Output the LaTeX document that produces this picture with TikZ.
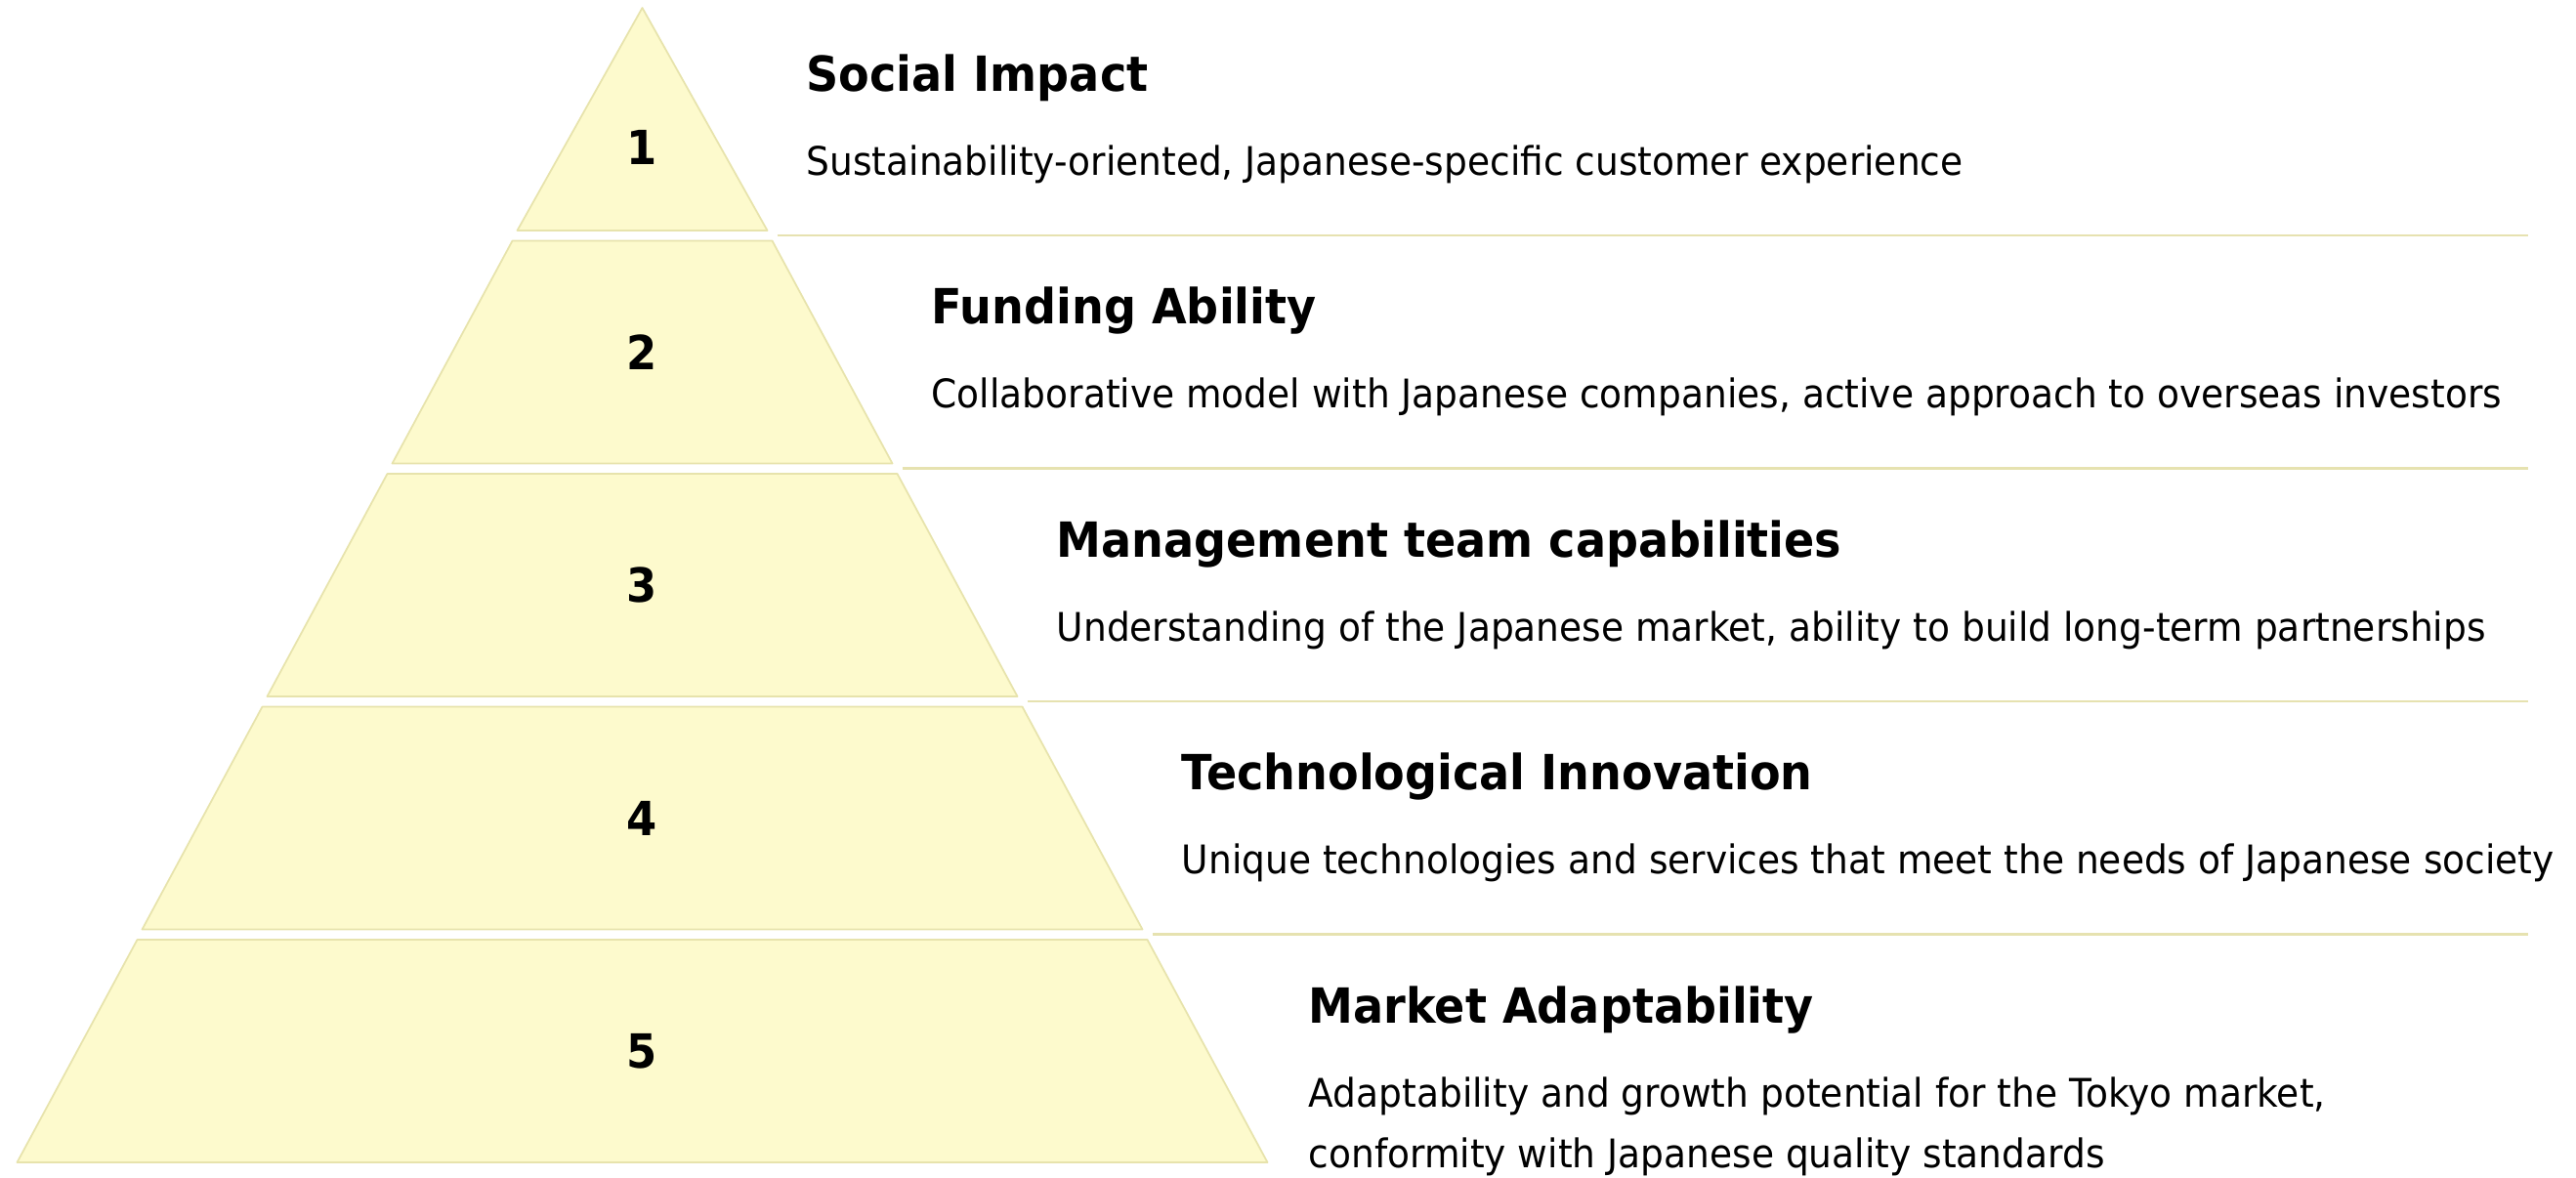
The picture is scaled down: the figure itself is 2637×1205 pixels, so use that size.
\documentclass[tikz,border=0pt]{standalone}
\usepackage{fontspec}
\setmainfont{DejaVu Sans}[FakeStretch=0.93]
\usepackage{tikz}
\usetikzlibrary{positioning}
\definecolor{tierfill}{RGB}{253, 250, 205}
\definecolor{tierline}{RGB}{231, 227, 172}
\definecolor{rulecolor}{RGB}{230, 226, 176}

\begin{document}
\begin{tikzpicture}[x=0.01cm, y=-0.01cm,
    tier/.style={fill=tierfill, draw=tierline, line width=0.5pt, line join=round},
    tiernum/.style={inner sep=0pt, font=\fontsize{13.7}{16}\selectfont\bfseries},
    heading/.style={anchor=base west, inner sep=0pt, font=\fontsize{14.1}{17}\selectfont\bfseries},
    desc/.style={anchor=base west, inner sep=0pt, font=\fontsize{11.48}{14}\selectfont},
    divider/.style={draw=rulecolor, line width=0.6pt}]
    \useasboundingbox (0,0) rectangle (2637,1205);

    % Pyramid tiers
    \path[tier] (657.5,8) -- (785.5,236) -- (529.5,236) -- cycle;
    \path[tier] (524.5,246.5) -- (790.5,246.5) -- (913.5,474.5) -- (401.5,474.5) -- cycle;
    \path[tier] (396.5,485) -- (918.5,485) -- (1041.5,713) -- (273.5,713) -- cycle;
    \path[tier] (268.5,723.5) -- (1046.5,723.5) -- (1169.5,951.5) -- (145.5,951.5) -- cycle;
    \path[tier] (140.5,962) -- (1174.5,962) -- (1297.5,1190) -- (17.5,1190) -- cycle;

    % Tier numbers
    \node[tiernum] (num1) at (657.5,151) {1};
    \node[tiernum] (num2) at (657.5,360.5) {2};
    \node[tiernum] (num3) at (657.5,599) {3};
    \node[tiernum] (num4) at (657.5,837.5) {4};
    \node[tiernum] (num5) at (657.5,1076) {5};

    % Dividers
    \coordinate (divA) at (795.5,241);
    \coordinate (divB) at (923.5,479.5);
    \coordinate (divC) at (1051.5,718);
    \coordinate (divD) at (1179.5,956.5);
    \draw[divider] (divA) -- (divA -| 2588,0);
    \draw[divider] (divB) -- (divB -| 2588,0);
    \draw[divider] (divC) -- (divC -| 2588,0);
    \draw[divider] (divD) -- (divD -| 2588,0);

    % Headings and descriptions
    \node[heading] (social) at (825,93) {Social Impact};
    \node[desc] (socialtext) at (825,179) {Sustainability-oriented, Japanese-specific customer experience};

    \node[heading] (funding) at (953,331.5) {Funding Ability};
    \node[desc] (fundingtext) at (953,417.5) {Collaborative model with Japanese companies, active approach to overseas investors};

    \node[heading] (management) at (1081,570) {Management team capabilities};
    \node[desc] (managementtext) at (1081,656) {Understanding of the Japanese market, ability to build long-term partnerships};

    \node[heading] (technology) at (1209,808.5) {Technological Innovation};
    \node[desc] (technologytext) at (1209,894.5) {Unique technologies and services that meet the needs of Japanese society};

    \node[heading] (market) at (1339,1047) {Market Adaptability};
    \node[desc] (markettext) at (1339,1133) {Adaptability and growth potential for the Tokyo market,};
    \node[desc] (markettext2) at ([yshift=-0.62cm]markettext.base west) {conformity with Japanese quality standards};
\end{tikzpicture}
\end{document}
